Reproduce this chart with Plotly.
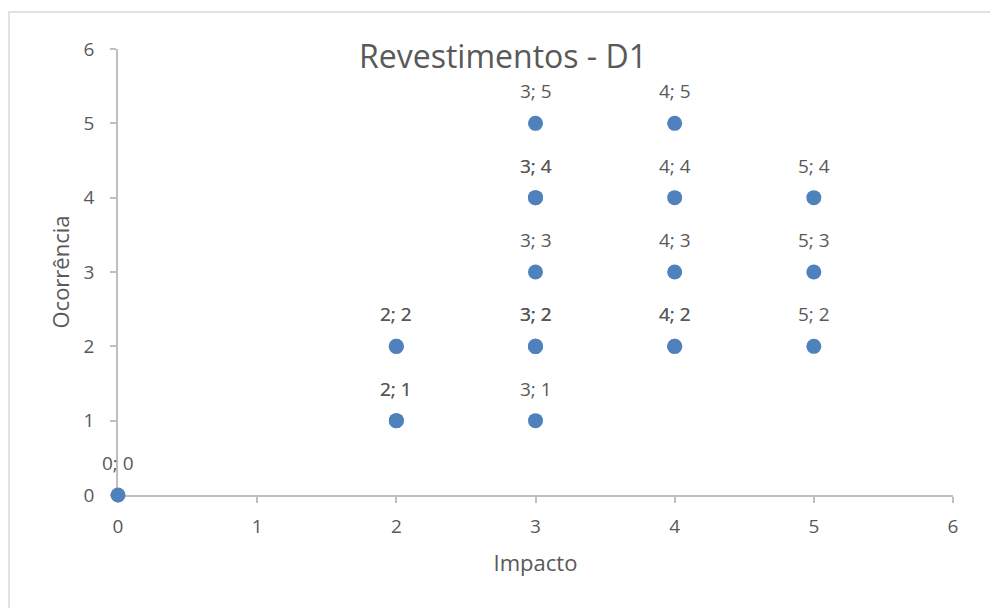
import plotly.graph_objects as go

# Risk matrix points (impact, occurrence); repeated pairs are separate records
impacto = [0, 2, 2, 2, 2, 3, 3, 3, 3, 3, 3, 3, 3, 4, 4, 4, 4, 4, 5, 5, 5]
ocorrencia = [0, 1, 1, 2, 2, 1, 2, 2, 3, 4, 4, 5, 2, 2, 2, 3, 4, 5, 2, 3, 4]

x_ticks = [0, 1, 2, 3, 4, 5, 6]
y_ticks = [0, 1, 2, 3, 4, 5, 6]

FONT = "Open Sans"
GREY = "#595959"
AXIS = "#BFBFBF"
BLUE = "#4F81BD"

W, H = 990, 608
L, R, T, B = 118, 37, 49, 113
pw, ph = W - L - R, H - T - B

fig = go.Figure()
fig.add_trace(go.Scatter(
    x=impacto, y=ocorrencia, mode="markers",
    marker=dict(size=15, color=BLUE),
    hoverinfo="x+y", showlegend=False,
))

# "x; y" data labels above each point
for xi, yi in zip(impacto, ocorrencia):
    fig.add_annotation(
        x=xi, y=yi, text=f"{xi}; {yi}", showarrow=False,
        yshift=32, font=dict(family=FONT, size=19, color=GREY),
    )

# light chart-area frame
fig.add_shape(
    type="rect", xref="paper", yref="paper",
    x0=(9 - L) / pw, x1=(W + 50 - L) / pw,
    y0=-(H + 50 - T - ph) / ph, y1=(H - B - 12) / ph,
    line=dict(color="#D9D9D9", width=1.5), layer="below",
)

axis_common = dict(
    range=[0, 6], showgrid=False, zeroline=False,
    showline=True, linecolor=AXIS, linewidth=1.5, layer="below traces",
    ticks="outside", ticklen=6, tickcolor=AXIS, tickwidth=1.5,
    tickfont=dict(family=FONT, size=19, color=GREY),
)

fig.update_layout(
    width=W, height=H,
    margin=dict(l=L, r=R, t=T, b=B),
    paper_bgcolor="white", plot_bgcolor="white",
    font=dict(family=FONT, color=GREY, size=19),
    title=dict(
        text="Revestimentos - D1", xref="container", x=503 / W,
        yref="container", y=1 - 57 / H, xanchor="center", yanchor="middle",
        font=dict(family=FONT, size=32, color=GREY),
    ),
    xaxis=dict(
        tickvals=x_ticks, ticklabelstandoff=7, **axis_common,
        title=dict(text="Impacto", font=dict(family=FONT, size=22, color=GREY), standoff=18),
    ),
    yaxis=dict(
        tickvals=y_ticks, ticklabelstandoff=12, **axis_common,
        title=dict(text="Ocorrência", font=dict(family=FONT, size=22, color=GREY), standoff=8),
    ),
)
fig.update_traces(cliponaxis=False)

fig.write_html("out.html")
